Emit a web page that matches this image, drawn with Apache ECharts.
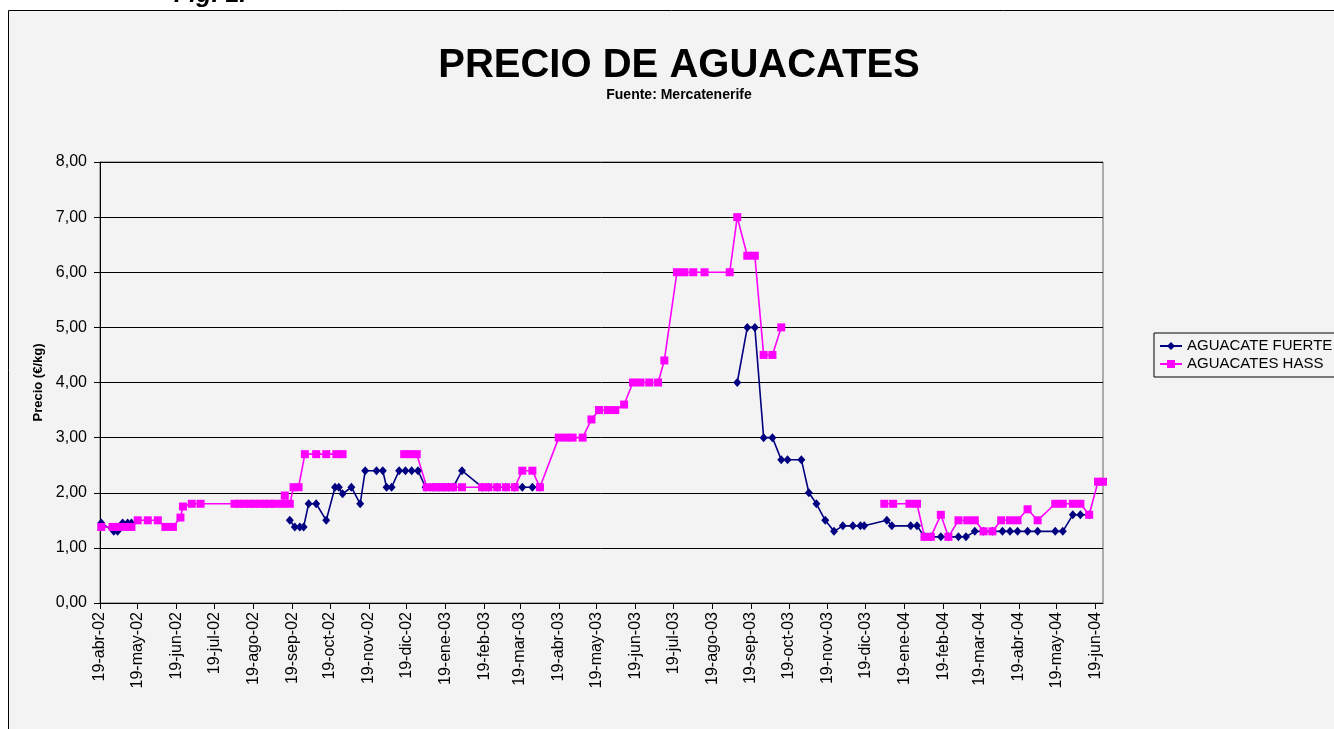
<!DOCTYPE html>
<html>
<head>
<meta charset="utf-8">
<title>Precio de aguacates</title>
<script src="https://cdn.jsdelivr.net/npm/echarts@6/dist/echarts.min.js"></script>
<style>
  html, body { margin: 0; padding: 0; background: #fff; }
  #chart { width: 1334px; height: 729px; }
</style>
</head>
<body>
<div id="chart"></div>
<script>
// ticks del eje x: dia 19 de cada mes
const tickDates = [
  "2002-04-19", "2002-05-19", "2002-06-19", "2002-07-19", "2002-08-19", "2002-09-19",
  "2002-10-19", "2002-11-19", "2002-12-19", "2003-01-19", "2003-02-19", "2003-03-19",
  "2003-04-19", "2003-05-19", "2003-06-19", "2003-07-19", "2003-08-19", "2003-09-19",
  "2003-10-19", "2003-11-19", "2003-12-19", "2004-01-19", "2004-02-19", "2004-03-19",
  "2004-04-19", "2004-05-19", "2004-06-19",
];
const tickLabels = [
  "19-abr-02", "19-may-02", "19-jun-02", "19-jul-02", "19-ago-02", "19-sep-02",
  "19-oct-02", "19-nov-02", "19-dic-02", "19-ene-03", "19-feb-03", "19-mar-03",
  "19-abr-03", "19-may-03", "19-jun-03", "19-jul-03", "19-ago-03", "19-sep-03",
  "19-oct-03", "19-nov-03", "19-dic-03", "19-ene-04", "19-feb-04", "19-mar-04",
  "19-abr-04", "19-may-04", "19-jun-04",
];
const xMin = "2002-04-19";
const xMax = "2004-06-25";

// AGUACATE FUERTE (null = hueco en la serie)
const fuerteDates = [
  "2002-04-20", "2002-04-30", "2002-05-03", "2002-05-07", "2002-05-11", "2002-05-14",
  "2002-07-01",
  "2002-09-17", "2002-09-21", "2002-09-25", "2002-09-28", "2002-10-02", "2002-10-08",
  "2002-10-16", "2002-10-23", "2002-10-26", "2002-10-29", "2002-11-05", "2002-11-12",
  "2002-11-16", "2002-11-25", "2002-11-30", "2002-12-03", "2002-12-07", "2002-12-13",
  "2002-12-18", "2002-12-23", "2002-12-28", "2003-01-03", "2003-01-09", "2003-01-13",
  "2003-01-17", "2003-01-21", "2003-01-25", "2003-02-01", "2003-02-17", "2003-02-22",
  "2003-03-01", "2003-03-08", "2003-03-15", "2003-03-21", "2003-03-29", "2003-04-04",
  "2003-06-01",
  "2003-09-08", "2003-09-16", "2003-09-22", "2003-09-29", "2003-10-06", "2003-10-13",
  "2003-10-18", "2003-10-29", "2003-11-04", "2003-11-10", "2003-11-17", "2003-11-24",
  "2003-12-01", "2003-12-09", "2003-12-15", "2003-12-18", "2004-01-05", "2004-01-09",
  "2004-01-24", "2004-01-29", "2004-02-04", "2004-02-09", "2004-02-17", "2004-02-23",
  "2004-03-02", "2004-03-08", "2004-03-15", "2004-03-22", "2004-03-29", "2004-04-06",
  "2004-04-12", "2004-04-18", "2004-04-26", "2004-05-04", "2004-05-18", "2004-05-24",
  "2004-06-01", "2004-06-07", "2004-06-14",
];
const fuerteValues = [
  1.45, 1.30, 1.30, 1.45, 1.45, 1.45,
  null,
  1.50, 1.38, 1.38, 1.38, 1.80, 1.80,
  1.50, 2.10, 2.10, 1.98, 2.10, 1.80,
  2.40, 2.40, 2.40, 2.10, 2.10, 2.40,
  2.40, 2.40, 2.40, 2.10, 2.10, 2.10,
  2.10, 2.10, 2.10, 2.40, 2.10, 2.10,
  2.10, 2.10, 2.10, 2.10, 2.10, 2.10,
  null,
  4.00, 5.00, 5.00, 3.00, 3.00, 2.60,
  2.60, 2.60, 2.00, 1.80, 1.50, 1.30,
  1.40, 1.40, 1.40, 1.40, 1.50, 1.40,
  1.40, 1.40, 1.20, 1.20, 1.20, 1.20,
  1.20, 1.20, 1.30, 1.30, 1.30, 1.30,
  1.30, 1.30, 1.30, 1.30, 1.30, 1.30,
  1.60, 1.60, 1.60,
];

// AGUACATES HASS
const hassDates = [
  "2002-04-20", "2002-04-29", "2002-05-04", "2002-05-09", "2002-05-14", "2002-05-19",
  "2002-05-27", "2002-06-04", "2002-06-10", "2002-06-16", "2002-06-22", "2002-06-24",
  "2002-07-01", "2002-07-08", "2002-08-04", "2002-08-08", "2002-08-12", "2002-08-16",
  "2002-08-20", "2002-08-24", "2002-08-28", "2002-09-01", "2002-09-05", "2002-09-11",
  "2002-09-13", "2002-09-17", "2002-09-20", "2002-09-24", "2002-09-29", "2002-10-08",
  "2002-10-16", "2002-10-24", "2002-10-29",
  "2002-11-15",
  "2002-12-17", "2002-12-22", "2002-12-27", "2003-01-04", "2003-01-09", "2003-01-13",
  "2003-01-17", "2003-01-21", "2003-01-25", "2003-02-01", "2003-02-17", "2003-02-22",
  "2003-03-01", "2003-03-08", "2003-03-15", "2003-03-21", "2003-03-29", "2003-04-04",
  "2003-04-19", "2003-04-25", "2003-04-30", "2003-05-08", "2003-05-15", "2003-05-21",
  "2003-05-28", "2003-06-03", "2003-06-10", "2003-06-17", "2003-06-23", "2003-06-30",
  "2003-07-07", "2003-07-12", "2003-07-22", "2003-07-28", "2003-08-04", "2003-08-13",
  "2003-09-02", "2003-09-08", "2003-09-16", "2003-09-22", "2003-09-29", "2003-10-06",
  "2003-10-13",
  "2003-11-20",
  "2004-01-03", "2004-01-10", "2004-01-23", "2004-01-29", "2004-02-04", "2004-02-09",
  "2004-02-17", "2004-02-23", "2004-03-02", "2004-03-09", "2004-03-15", "2004-03-22",
  "2004-03-29", "2004-04-05", "2004-04-12", "2004-04-18", "2004-04-26", "2004-05-04",
  "2004-05-18", "2004-05-24", "2004-06-01", "2004-06-07", "2004-06-14", "2004-06-21",
  "2004-06-25",
];
const hassValues = [
  1.38, 1.38, 1.38, 1.38, 1.38, 1.50,
  1.50, 1.50, 1.38, 1.38, 1.55, 1.75,
  1.80, 1.80, 1.80, 1.80, 1.80, 1.80,
  1.80, 1.80, 1.80, 1.80, 1.80, 1.80,
  1.95, 1.80, 2.10, 2.10, 2.70, 2.70,
  2.70, 2.70, 2.70,
  null,
  2.70, 2.70, 2.70, 2.10, 2.10, 2.10,
  2.10, 2.10, 2.10, 2.10, 2.10, 2.10,
  2.10, 2.10, 2.10, 2.40, 2.40, 2.10,
  3.00, 3.00, 3.00, 3.00, 3.33, 3.50,
  3.50, 3.50, 3.60, 4.00, 4.00, 4.00,
  4.00, 4.40, 6.00, 6.00, 6.00, 6.00,
  6.00, 7.00, 6.30, 6.30, 4.50, 4.50,
  5.00,
  null,
  1.80, 1.80, 1.80, 1.80, 1.20, 1.20,
  1.60, 1.20, 1.50, 1.50, 1.50, 1.30,
  1.30, 1.50, 1.50, 1.50, 1.70, 1.50,
  1.80, 1.80, 1.80, 1.80, 1.60, 2.20,
  2.20,
];

const FONT = '"Liberation Sans", Arial, sans-serif';

// fecha -> ms (el eje x es de valor, en milisegundos)
function toTime(s) {
  const p = s.split("-");
  return new Date(+p[0], +p[1] - 1, +p[2]).getTime();
}

function pairs(dates, values) {
  return dates.map((d, i) => [toTime(d), values[i] == null ? "-" : values[i]]);
}

const tickTimes = tickDates.map(toTime);
const labelByTime = {};
tickTimes.forEach((t, i) => { labelByTime[t] = tickLabels[i]; });

const chart = echarts.init(document.getElementById("chart"));

chart.setOption({
  animation: false,
  backgroundColor: "#ffffff",
  textStyle: { fontFamily: FONT },
  graphic: [
    {
      type: "rect",
      z: -100,
      silent: true,
      shape: { x: 8.5, y: 10.5, width: 1400, height: 800 },
      style: { fill: "#f3f3f3", stroke: "#000000", lineWidth: 1 },
    },
    {
      type: "text",
      left: 174,
      top: -17,
      silent: true,
      style: { text: "Fig. 1.", font: "italic bold 25px " + FONT, fill: "#000" },
    },
  ],
  title: {
    text: "PRECIO DE AGUACATES",
    subtext: "Fuente: Mercatenerife",
    left: 674,
    top: 41,
    textAlign: "center",
    itemGap: 2,
    textStyle: { fontSize: 40, fontWeight: "bold", color: "#000", fontFamily: FONT },
    subtextStyle: { fontSize: 14, fontWeight: "bold", color: "#000", fontFamily: FONT },
  },
  legend: {
    orient: "vertical",
    left: 1154,
    top: 333,
    padding: [5, 8, 5, 5],
    itemGap: 2,
    itemWidth: 22,
    itemHeight: 10,
    borderColor: "#000",
    borderWidth: 1,
    backgroundColor: "#f3f3f3",
    textStyle: { fontSize: 15, color: "#000", fontFamily: FONT, lineHeight: 16 },
    data: ["AGUACATE FUERTE", "AGUACATES HASS"],
  },
  grid: {
    left: 100,
    right: 231,
    top: 162,
    bottom: 126,
    show: true,
    backgroundColor: "transparent",
    borderColor: "#666",
    borderWidth: 1,
  },
  xAxis: {
    type: "value",
    min: toTime(xMin),
    max: toTime(xMax),
    axisLine: { show: true, lineStyle: { color: "#000", width: 1 } },
    axisTick: { show: true, length: 6, customValues: tickTimes, lineStyle: { color: "#000" } },
    axisLabel: {
      customValues: tickTimes,
      rotate: 90,
      margin: 9,
      fontSize: 16,
      color: "#000",
      fontFamily: FONT,
      formatter: (v) => labelByTime[v] || "",
    },
    splitLine: { show: false },
  },
  yAxis: {
    type: "value",
    min: 0,
    max: 8,
    interval: 1,
    name: "Precio (€/kg)",
    nameLocation: "middle",
    nameGap: 53,
    nameRotate: 90,
    nameTextStyle: { fontSize: 13, fontWeight: "bold", color: "#000", fontFamily: FONT },
    axisLine: { show: true, lineStyle: { color: "#000", width: 1 } },
    axisTick: { show: true, length: 6, lineStyle: { color: "#000" } },
    axisLabel: {
      margin: 13,
      fontSize: 16,
      color: "#000",
      fontFamily: FONT,
      formatter: (v) => v.toFixed(2).replace(".", ","),
    },
    splitLine: { show: true, lineStyle: { color: "#000", width: 1 } },
  },
  series: [
    {
      name: "AGUACATE FUERTE",
      type: "line",
      data: pairs(fuerteDates, fuerteValues),
      symbol: "diamond",
      symbolSize: [8, 9],
      showAllSymbol: true,
      connectNulls: false,
      lineStyle: { color: "#000080", width: 1.6 },
      itemStyle: { color: "#000080" },
    },
    {
      name: "AGUACATES HASS",
      type: "line",
      data: pairs(hassDates, hassValues),
      symbol: "rect",
      symbolSize: 8,
      showAllSymbol: true,
      connectNulls: false,
      lineStyle: { color: "#ff00ff", width: 1.6 },
      itemStyle: { color: "#ff00ff" },
    },
  ],
});
</script>
</body>
</html>
